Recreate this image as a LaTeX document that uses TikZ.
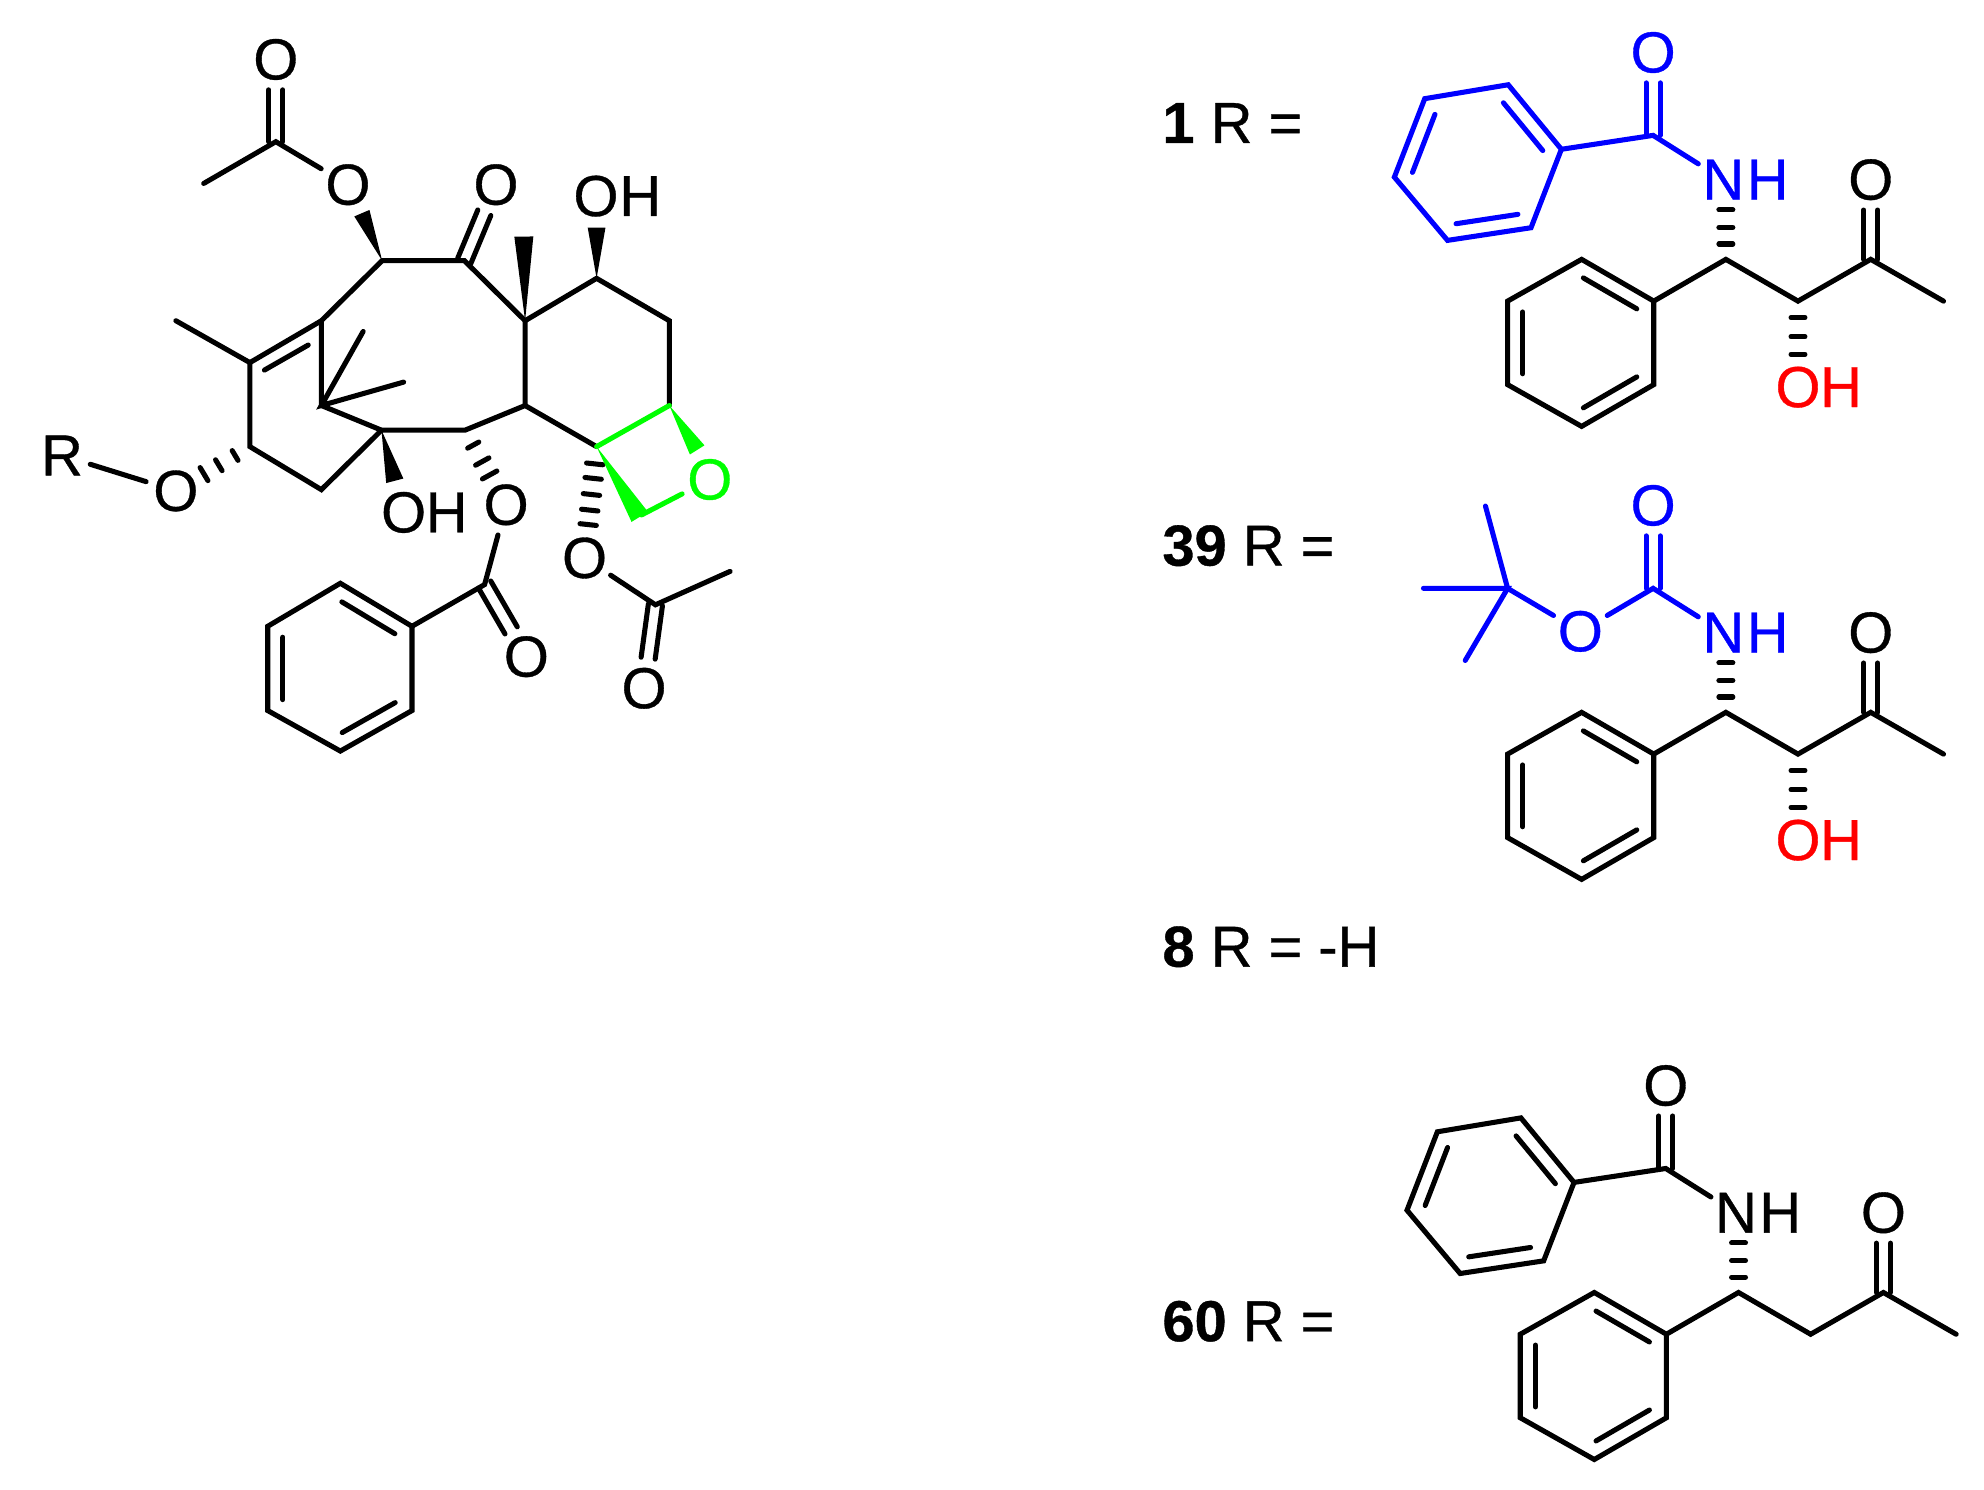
\documentclass[tikz,border=0pt]{standalone}
\usepackage{fontspec}
\setmainfont{Liberation Sans}
\newfontfamily\atomf[FakeBold=0.6]{Liberation Sans}
\usetikzlibrary{calc}
\definecolor{oxgreen}{RGB}{0,255,0}
\definecolor{nblue}{RGB}{0,0,255}
\definecolor{ored}{RGB}{255,0,0}
\tikzset{
  bond/.style={line width=.04cm,line cap=round,line join=miter},
  hashbond/.style={line width=.04cm,line cap=round},
  atom/.style={circle,inner sep=0pt,font=\atomf\fontsize{13pt}{15pt}\selectfont},
  tag/.style={anchor=base west,inner sep=0pt,font=\atomf\fontsize{13pt}{15pt}\selectfont},
}
\newcommand{\dblbond}[3]{%
  \draw[bond] ($(#1)!#3!90:(#2)$) -- ($(#2)!.24cm!(#1)!#3!-90:(#1)$);
  \draw[bond] ($(#1)!#3!-90:(#2)$) -- ($(#2)!.24cm!(#1)!#3!90:(#1)$);}
\newcommand{\innerb}[2]{%
  \draw[bond] ($(#1)!.13!(#2)!.12cm!90:(#2)$) -- ($(#2)!.13!(#1)!.12cm!-90:(#1)$);}
\newcommand{\wdgb}[3]{%
  \fill (#1) -- ($(#2)!#3!90:(#1)$) -- ($(#2)!#3!-90:(#1)$) -- cycle;}
\newcommand{\hashb}[3]{%
  \foreach \t/\w in {#3}{\draw[hashbond] ($(#1)!\t!(#2)!\w!90:(#2)$) -- ($(#1)!\t!(#2)!\w!-90:(#2)$);}}
% phenyl + chain, black part
\newcommand{\chainpart}[2]{% prefix, 1 = with OH
  \coordinate (#1t) at (1250,205);
  \coordinate (#1tr) at (1307,238);
  \coordinate (#1br) at (1307,304);
  \coordinate (#1b) at (1250,337);
  \coordinate (#1bl) at (1191.5,304);
  \coordinate (#1tl) at (1191.5,238);
  \draw[bond] (#1t) -- (#1tl) -- (#1bl) -- (#1b) -- (#1br) -- (#1tr) -- cycle;
  \innerb{#1tr}{#1t}\innerb{#1tl}{#1bl}\innerb{#1b}{#1br}
  \coordinate (#1c1) at (1364,205);
  \coordinate (#1c2) at (1421,238);
  \coordinate (#1c3) at (1478.5,205);
  \coordinate (#1me) at (1536,238);
  \node[atom] (#1ok) at (1478.5,142) {O};
  \draw[bond] (#1tr) -- (#1c1) -- (#1c2) -- (#1c3) -- (#1me);
  \dblbond{#1c3}{#1ok}{.056cm}
  \coordinate (#1nh) at (1364,160);
  \hashb{#1c1}{#1nh}{.27/.055cm,.56/.055cm,.87/.055cm}
  \ifnum#2=1
    \coordinate (#1oh) at (1421,290);
    \hashb{#1c2}{#1oh}{.25/.055cm,.54/.055cm,.81/.055cm}
    \node[atom,text=ored] (#1oo) at (1421,306) {O};
    \node[atom,text=ored] (#1oh2) at (1455,306) {H};
  \fi
}
\newcommand{\benzamide}[2]{%
  \begin{scope}[#2]
  \coordinate (#1p1) at (1234,118);
  \coordinate (#1p2) at (1192,67);
  \coordinate (#1p3) at (1126,78);
  \coordinate (#1p4) at (1102,140);
  \coordinate (#1p5) at (1144,190);
  \coordinate (#1p6) at (1210,180);
  \draw[bond] (#1p1) -- (#1p2) -- (#1p3) -- (#1p4) -- (#1p5) -- (#1p6) -- cycle;
  \innerb{#1p1}{#1p2}\innerb{#1p3}{#1p4}\innerb{#1p5}{#1p6}
  \coordinate (#1co) at (1306.5,107);
  \node[atom,text=#2] (#1o) at (1306.5,41.5) {O};
  \node[atom,text=#2] (#1n) at (1362,142) {N};
  \node[atom,text=#2] (#1nhh) at (1397,142) {H};
  \draw[bond] (#1p1) -- (#1co) -- (#1n);
  \dblbond{#1co}{#1o}{.056cm}
  \end{scope}
}
\begin{document}
\begin{tikzpicture}[x=.01cm,y=-.01cm]
\useasboundingbox (0,0) rectangle (1568,1177.6);
\fill[white] (0,0) rectangle (1568,1177.6);
% ----- main skeleton
\coordinate (me1) at (161,145);
\coordinate (ac1) at (218,112);
\node[atom] (o1) at (218,47) {O};
\node[atom] (o2) at (275,146) {O};
\coordinate (c2) at (302,206);
\coordinate (c1) at (367,206);
\node[atom] (o3) at (392,146) {O};
\coordinate (cq) at (415,253.5);
\coordinate (mew) at (414,187);
\coordinate (c7) at (471.5,220);
\node[atom] (o4) at (471,155) {O};
\node[atom] (h4) at (506,155) {H};
\coordinate (oh4w) at (471.5,180);
\coordinate (c6) at (529,253.5);
\coordinate (c5) at (529,320.5);
\coordinate (c4) at (471.5,353);
\coordinate (c3) at (415,320.5);
\coordinate (c10) at (367.5,340);
\coordinate (c9) at (301.5,340);
\coordinate (c15) at (254,320.5);
\coordinate (c11) at (254,253.5);
\coordinate (c12) at (197.5,286.6);
\coordinate (me12) at (139,253.5);
\coordinate (c13) at (197.5,353);
\coordinate (c14) at (254,387);
\coordinate (gm1) at (287,262);
\coordinate (gm2) at (319,302);
\coordinate (db1) at (209,292.5);
\coordinate (db2) at (243.6,272.7);
\node[atom] (o5) at (139,388) {O};
\node[atom] (rr) at (49,360) {R};
\node[atom] (o6) at (319,405) {O};
\node[atom] (h6) at (353,405) {H};
\coordinate (oh6w) at (312,380);
\node[atom] (o7) at (400,399) {O};
\coordinate (bz) at (383,462);
\node[atom] (o8) at (416,519) {O};
\coordinate (ph1) at (325.6,495);
\coordinate (ph2) at (269,461);
\coordinate (ph3) at (211.6,495);
\coordinate (ph4) at (211.6,561.6);
\coordinate (ph5) at (269,593.6);
\coordinate (ph6) at (325.6,561.6);
\node[atom] (o9) at (462,441) {O};
\coordinate (ac2) at (518,478);
\coordinate (me2) at (577,451.6);
\node[atom] (o10) at (509,544) {O};
\coordinate (c2w) at (286,168.5);

\draw[bond] (me1) -- (ac1) -- (o2);
\dblbond{ac1}{o1}{.056cm}
\wdgb{c2}{c2w}{.065cm}
\draw[bond] (c2) -- (c1) -- (cq) -- (c7) -- (c6) -- (c5);
\dblbond{c1}{o3}{.056cm}
\wdgb{cq}{mew}{.075cm}
\wdgb{c7}{oh4w}{.07cm}
\draw[bond] (cq) -- (c3) -- (c10) -- (c9) -- (c15) -- (c11) -- (c2);
\draw[bond] (c3) -- (c4);
\draw[bond] (c11) -- (c12) -- (c13) -- (c14) -- (c9);
\draw[bond] (c12) -- (me12);
\draw[bond] (db1) -- (db2);
\draw[bond] (gm1) -- (c15) -- (gm2);
\wdgb{c9}{oh6w}{.07cm}
\draw[bond] (rr) -- (o5);
\hashb{c13}{o5}{.2/.045cm,.42/.05cm,.62/.06cm}
\hashb{c10}{o7}{.2/.05cm,.42/.06cm,.6/.065cm}
\hashb{c4}{o9}{.155/.065cm,.285/.065cm,.43/.065cm,.57/.065cm,.7/.065cm}
\draw[bond] (o7) -- (bz) -- (ph1);
\dblbond{bz}{o8}{.056cm}
\draw[bond] (ph2) -- (ph3) -- (ph4) -- (ph5) -- (ph6) -- (ph1) -- cycle;
\innerb{ph1}{ph2}\innerb{ph3}{ph4}\innerb{ph5}{ph6}
\draw[bond] (o9) -- (ac2) -- (me2);
\dblbond{ac2}{o10}{.056cm}
% green oxetane
\begin{scope}[oxgreen]
\node[atom,text=oxgreen] (o11) at (561,379) {O};
\coordinate (ch2) at (507,407);
\coordinate (c5w) at (551,355.6);
\coordinate (c4w) at (505.6,408.5);
\draw[bond] (c4) -- (c5);
\wdgb{c5}{c5w}{.068cm}
\wdgb{c4}{c4w}{.076cm}
\draw[bond] (ch2) -- (o11);
\end{scope}
% ----- side chains
\node[tag] (lab1) at (918,113) {\textbf{1} R =};
\benzamide{a}{nblue}
\chainpart{a}{1}
\node[tag] (lab39) at (918,447) {\textbf{39} R =};
\begin{scope}[shift={(0,358)}]
\chainpart{b}{1}
\begin{scope}[nblue]
\coordinate (bco) at (1306.5,107);
\node[atom,text=nblue] (bo1) at (1306.5,41.5) {O};
\node[atom,text=nblue] (bn) at (1362,142) {N};
\node[atom,text=nblue] (bhn) at (1397,142) {H};
\node[atom,text=nblue] (bo2) at (1249,141) {O};
\coordinate (tb) at (1191.5,107);
\coordinate (tb1) at (1174,42);
\coordinate (tb2) at (1125,107);
\coordinate (tb3) at (1158,164);
\draw[bond] (bo2) -- (bco) -- (bn);
\dblbond{bco}{bo1}{.056cm}
\draw[bond] (bo2) -- (tb) -- (tb1);
\draw[bond] (tb2) -- (tb) -- (tb3);
\end{scope}
\end{scope}
\node[tag] (lab8) at (918,764) {\textbf{8} R = -H};
\node[tag] (lab60) at (918,1060) {\textbf{60} R =};
\begin{scope}[shift={(10,816.5)}]
\chainpart{d}{0}
\benzamide{d}{black}
\end{scope}
\end{tikzpicture}
\end{document}
